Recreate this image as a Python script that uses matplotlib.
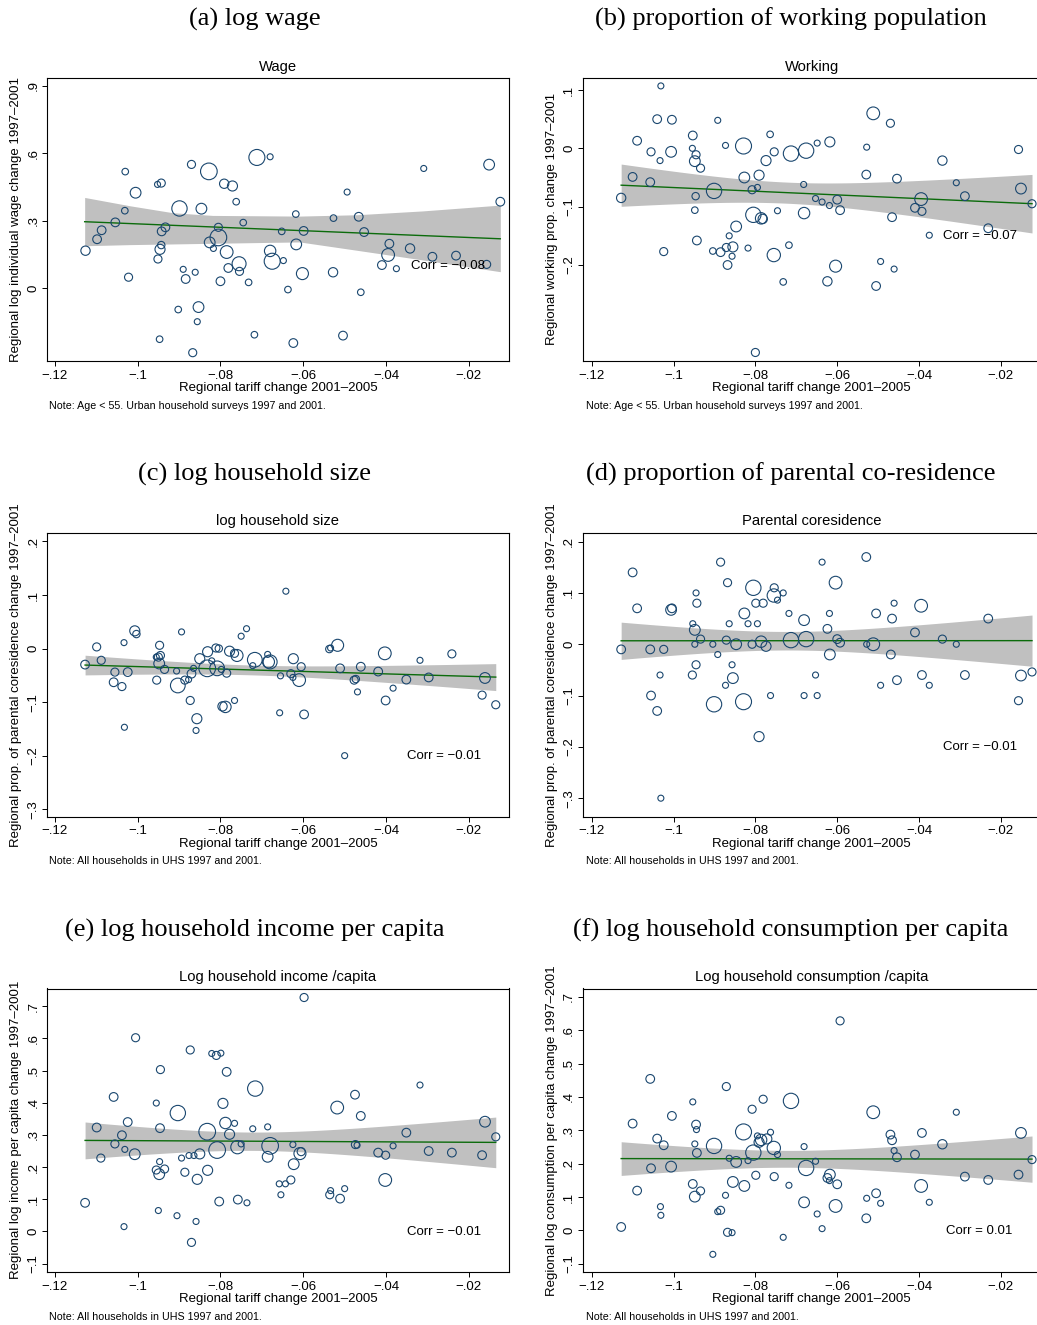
import matplotlib
matplotlib.use("Agg")
import matplotlib.pyplot as plt
import numpy as np

# ---- data (x = regional tariff change, y = outcome,
# ---- w = relative bubble weight, area proportional to w)

wage_x = [-0.1126, -0.1098, -0.1087, -0.1054, -0.1030, -0.1031, -0.1022, -0.1005, -0.0952, -0.0943,
          -0.0942, -0.0933, -0.0943, -0.0946, -0.0951, -0.0947, -0.0902, -0.0899, -0.0890, -0.0884,
          -0.0870, -0.0861, -0.0853, -0.0856, -0.0867, -0.0846, -0.0828, -0.0826, -0.0817, -0.0805,
          -0.0805, -0.0800, -0.0791, -0.0771, -0.0785, -0.0781, -0.0762, -0.0755, -0.0754, -0.0745,
          -0.0732, -0.0718, -0.0712, -0.0680, -0.0680, -0.0675, -0.0652, -0.0648, -0.0637, -0.0624,
          -0.0618, -0.0617, -0.0602, -0.0599, -0.0528, -0.0527, -0.0504, -0.0494, -0.0466, -0.0461,
          -0.0453, -0.0410, -0.0395, -0.0392, -0.0375, -0.0342, -0.0309, -0.0288, -0.0231, -0.0157,
          -0.0151, -0.0124]
wage_y = [0.166, 0.217, 0.257, 0.292, 0.518, 0.344, 0.048, 0.424, 0.461, 0.467,
          0.252, 0.270, 0.191, 0.172, 0.129, -0.228, -0.096, 0.354, 0.083, 0.040,
          0.550, 0.070, -0.085, -0.150, -0.288, 0.353, 0.519, 0.203, 0.176, 0.270,
          0.225, 0.030, 0.464, 0.454, 0.160, 0.089, 0.384, 0.108, 0.074, 0.291,
          0.025, -0.208, 0.581, 0.584, 0.165, 0.119, 0.252, 0.122, -0.007, -0.245,
          0.329, 0.194, 0.064, 0.254, 0.070, 0.311, -0.212, 0.427, 0.317, -0.019,
          0.249, 0.102, 0.147, 0.197, 0.086, 0.176, 0.532, 0.139, 0.144, 0.105,
          0.549, 0.384]
wage_w = [2.4, 2.1, 2.1, 2.1, 1.2, 1.2, 1.8, 3.2, 1.0, 1.8,
          2.1, 2.1, 1.5, 2.8, 1.8, 1.2, 1.2, 6.5, 1.0, 2.1,
          1.8, 1.0, 3.2, 1.0, 1.8, 3.2, 7.7, 3.2, 1.0, 1.8,
          7.7, 2.1, 2.4, 2.8, 4.5, 2.1, 1.2, 5.4, 1.8, 1.2,
          1.2, 1.2, 7.1, 1.0, 3.6, 7.1, 1.2, 1.0, 1.2, 2.1,
          1.2, 3.2, 4.0, 2.1, 2.4, 1.2, 2.1, 1.0, 2.1, 1.2,
          2.1, 2.1, 4.5, 2.1, 1.0, 2.4, 1.0, 2.1, 2.1, 1.8,
          3.2, 2.1]
# the wage fit in the source does not follow from the visible points alone,
# so its line and 95% band are read straight off the chart
wage_fit_x = [-0.1128, -0.0124]
wage_fit_y = [0.295, 0.219]
wage_band_x = [-0.1128, -0.1019, -0.0915, -0.0819, -0.0609, -0.0471, -0.0312, -0.0124]
wage_band_lo = [0.188, 0.193, 0.196, 0.199, 0.205, 0.168, 0.125, 0.0725]
wage_band_hi = [0.403, 0.366, 0.335, 0.323, 0.320, 0.326, 0.343, 0.369]

work_x = [-0.1128, -0.1100, -0.1089, -0.1057, -0.1055, -0.1040, -0.1031, -0.1033, -0.1024, -0.1006,
          -0.1004, -0.0953, -0.0954, -0.0945, -0.0948, -0.0934, -0.0946, -0.0948, -0.0943, -0.0904,
          -0.0901, -0.0892, -0.0873, -0.0885, -0.0871, -0.0864, -0.0855, -0.0868, -0.0857, -0.0847,
          -0.0829, -0.0827, -0.0818, -0.0808, -0.0795, -0.0805, -0.0791, -0.0786, -0.0782, -0.0800,
          -0.0774, -0.0764, -0.0754, -0.0746, -0.0755, -0.0732, -0.0718, -0.0713, -0.0676, -0.0682,
          -0.0681, -0.0653, -0.0649, -0.0637, -0.0619, -0.0618, -0.0600, -0.0593, -0.0604, -0.0624,
          -0.0528, -0.0512, -0.0529, -0.0505, -0.0494, -0.0470, -0.0454, -0.0466, -0.0461, -0.0410,
          -0.0395, -0.0393, -0.0375, -0.0343, -0.0309, -0.0288, -0.0231, -0.0157, -0.0151, -0.0124]
work_y = [-0.085, -0.049, 0.013, -0.058, -0.006, 0.050, 0.107, -0.021, -0.177, -0.006,
          0.049, 0.022, 0.000, -0.011, -0.022, -0.034, -0.082, -0.106, -0.158, -0.176,
          -0.073, 0.048, 0.005, -0.178, -0.170, -0.150, -0.169, -0.200, -0.185, -0.134,
          0.004, -0.050, -0.171, -0.071, -0.067, -0.114, -0.046, -0.120, -0.121, -0.350,
          -0.021, 0.024, -0.006, -0.107, -0.183, -0.229, -0.166, -0.009, -0.004, -0.062,
          -0.111, -0.086, 0.009, -0.092, -0.098, 0.011, -0.088, -0.106, -0.202, -0.228,
          0.002, 0.060, -0.045, -0.236, -0.194, 0.043, -0.052, -0.118, -0.207, -0.102,
          -0.087, -0.108, -0.149, -0.021, -0.059, -0.082, -0.137, -0.002, -0.069, -0.095]
work_w = [2.4, 2.1, 2.1, 2.1, 1.8, 2.1, 1.0, 1.0, 1.8, 3.2,
          2.1, 2.1, 1.0, 1.8, 3.2, 1.8, 1.5, 1.2, 2.1, 1.2,
          6.5, 1.0, 1.0, 2.1, 1.8, 1.0, 2.8, 2.1, 1.0, 3.2,
          7.1, 3.2, 1.0, 1.8, 1.0, 6.5, 2.8, 3.6, 2.4, 1.8,
          2.8, 1.2, 1.8, 1.0, 4.9, 1.2, 1.2, 6.5, 6.5, 1.0,
          3.6, 1.0, 1.0, 1.0, 1.0, 2.8, 2.1, 2.1, 4.0, 2.4,
          1.0, 4.5, 2.1, 2.1, 1.0, 1.8, 2.1, 2.1, 1.0, 2.1,
          4.5, 1.8, 1.0, 2.4, 1.0, 2.1, 2.1, 1.8, 3.2, 1.8]

hh_x = [-0.1127, -0.1099, -0.1088, -0.1055, -0.1058, -0.1038, -0.1033, -0.1024, -0.1032, -0.1007,
        -0.1003, -0.0955, -0.0950, -0.0947, -0.0945, -0.0948, -0.0954, -0.0935, -0.0906, -0.0903,
        -0.0894, -0.0886, -0.0877, -0.0870, -0.0865, -0.0873, -0.0857, -0.0859, -0.0850, -0.0831,
        -0.0832, -0.0821, -0.0811, -0.0804, -0.0808, -0.0798, -0.0785, -0.0778, -0.0766, -0.0760,
        -0.0795, -0.0788, -0.0766, -0.0750, -0.0737, -0.0722, -0.0717, -0.0686, -0.0684, -0.0680,
        -0.0655, -0.0657, -0.0642, -0.0630, -0.0625, -0.0624, -0.0605, -0.0610, -0.0598, -0.0537,
        -0.0534, -0.0517, -0.0511, -0.0500, -0.0477, -0.0473, -0.0469, -0.0461, -0.0419, -0.0403,
        -0.0401, -0.0383, -0.0351, -0.0318, -0.0297, -0.0241, -0.0168, -0.0161, -0.0135]
hh_y = [-0.030, 0.003, -0.022, -0.044, -0.063, -0.071, 0.011, -0.044, -0.147, 0.033,
        0.027, -0.016, -0.016, 0.006, -0.013, -0.028, -0.059, -0.039, -0.042, -0.069,
        0.031, -0.059, -0.058, -0.047, -0.037, -0.097, -0.131, -0.153, -0.019, -0.006,
        -0.037, -0.023, 0.001, 0.000, -0.037, -0.039, -0.046, -0.005, -0.009, -0.013,
        -0.108, -0.109, -0.097, 0.023, 0.037, -0.032, -0.021, -0.011, -0.025, -0.025,
        -0.051, -0.120, 0.107, -0.047, -0.054, -0.019, -0.034, -0.059, -0.123, -0.001,
        0.001, 0.006, -0.037, -0.200, -0.059, -0.057, -0.081, -0.034, -0.043, -0.009,
        -0.097, -0.074, -0.058, -0.022, -0.054, -0.010, -0.087, -0.055, -0.105]
hh_w = [2.1, 1.8, 1.8, 1.8, 2.1, 1.8, 1.0, 2.1, 1.0, 2.8,
        1.5, 1.0, 1.8, 1.8, 1.8, 3.2, 1.8, 1.8, 1.0, 6.0,
        1.0, 1.8, 1.0, 2.1, 1.0, 1.8, 2.8, 1.0, 2.8, 2.8,
        7.7, 1.0, 1.8, 1.5, 6.0, 1.0, 1.8, 2.8, 1.8, 4.0,
        2.4, 3.6, 1.0, 1.0, 1.0, 1.0, 6.0, 1.0, 4.0, 5.4,
        1.0, 1.0, 1.0, 1.8, 1.0, 2.8, 1.8, 4.5, 2.1, 1.5,
        1.0, 4.0, 2.1, 1.0, 1.8, 1.5, 1.0, 2.1, 2.1, 4.5,
        2.1, 1.0, 2.1, 1.0, 2.1, 1.8, 1.8, 3.2, 1.8]

cores_x = [-0.1128, -0.1100, -0.1089, -0.1057, -0.1055, -0.1040, -0.1033, -0.1031, -0.1024, -0.1006,
           -0.1004, -0.0953, -0.0954, -0.0948, -0.0948, -0.0945, -0.0943, -0.0945, -0.0934, -0.0904,
           -0.0901, -0.0892, -0.0885, -0.0873, -0.0871, -0.0868, -0.0864, -0.0857, -0.0855, -0.0847,
           -0.0829, -0.0827, -0.0818, -0.0808, -0.0805, -0.0799, -0.0795, -0.0791, -0.0786, -0.0781,
           -0.0774, -0.0763, -0.0754, -0.0755, -0.0746, -0.0732, -0.0718, -0.0713, -0.0681, -0.0681,
           -0.0676, -0.0653, -0.0649, -0.0637, -0.0624, -0.0619, -0.0618, -0.0604, -0.0600, -0.0593,
           -0.0528, -0.0529, -0.0512, -0.0505, -0.0494, -0.0469, -0.0466, -0.0461, -0.0454, -0.0410,
           -0.0395, -0.0393, -0.0375, -0.0343, -0.0309, -0.0288, -0.0231, -0.0157, -0.0151, -0.0124]
cores_y = [-0.010, 0.140, 0.070, -0.010, -0.100, -0.130, -0.060, -0.300, -0.010, 0.067,
           0.070, 0.040, -0.060, 0.028, 0.000, 0.100, 0.080, -0.040, 0.010, 0.000,
           -0.117, -0.020, 0.160, -0.080, 0.008, 0.120, 0.040, -0.040, -0.066, 0.000,
           -0.112, 0.060, 0.040, 0.000, 0.110, 0.080, 0.040, -0.180, 0.005, 0.080,
           -0.004, -0.100, 0.110, 0.095, 0.086, 0.100, 0.060, 0.008, 0.047, -0.100,
           0.010, -0.060, -0.100, 0.160, 0.030, 0.060, -0.020, 0.120, 0.010, 0.003,
           0.000, 0.170, 0.000, 0.060, -0.080, -0.020, 0.050, 0.080, -0.070, 0.023,
           0.075, -0.060, -0.080, 0.010, 0.000, -0.060, 0.050, -0.110, -0.061, -0.054]
cores_w = [2.1, 2.1, 2.1, 2.1, 2.1, 2.1, 1.0, 1.0, 1.8, 3.2,
           2.1, 1.0, 1.8, 3.2, 1.0, 1.0, 1.8, 1.8, 1.8, 1.0,
           6.5, 1.0, 1.8, 1.0, 1.8, 1.8, 1.0, 1.0, 3.2, 3.2,
           7.1, 3.2, 1.0, 1.8, 6.5, 1.8, 1.0, 2.8, 3.6, 1.8,
           2.8, 1.0, 1.8, 4.9, 1.0, 1.0, 1.0, 6.5, 3.2, 1.0,
           6.5, 1.0, 1.0, 1.0, 2.1, 1.0, 3.2, 4.5, 2.1, 2.1,
           1.0, 2.1, 4.5, 2.1, 1.0, 2.1, 2.1, 1.0, 2.1, 2.1,
           4.5, 2.1, 1.0, 1.8, 1.0, 2.1, 2.1, 1.8, 3.2, 1.8]

inc_x = [-0.1127, -0.1099, -0.1089, -0.1055, -0.1058, -0.1038, -0.1031, -0.1024, -0.1033, -0.1007,
         -0.1005, -0.0955, -0.0950, -0.0947, -0.0945, -0.0946, -0.0955, -0.0948, -0.0935, -0.0905,
         -0.0903, -0.0894, -0.0886, -0.0876, -0.0873, -0.0864, -0.0870, -0.0859, -0.0856, -0.0850,
         -0.0831, -0.0832, -0.0821, -0.0810, -0.0799, -0.0808, -0.0803, -0.0794, -0.0785, -0.0788,
         -0.0778, -0.0766, -0.0759, -0.0758, -0.0750, -0.0736, -0.0722, -0.0716, -0.0686, -0.0686,
         -0.0680, -0.0658, -0.0654, -0.0643, -0.0630, -0.0625, -0.0623, -0.0608, -0.0605, -0.0598,
         -0.0536, -0.0534, -0.0518, -0.0511, -0.0500, -0.0475, -0.0474, -0.0470, -0.0461, -0.0419,
         -0.0402, -0.0401, -0.0383, -0.0351, -0.0318, -0.0297, -0.0241, -0.0168, -0.0161, -0.0135]
inc_y = [0.089, 0.323, 0.228, 0.272, 0.418, 0.299, 0.255, 0.340, 0.015, 0.240,
         0.602, 0.399, 0.065, 0.217, 0.503, 0.321, 0.191, 0.178, 0.194, 0.049,
         0.368, 0.228, 0.184, 0.236, 0.564, 0.236, -0.034, 0.031, 0.162, 0.241,
         0.190, 0.310, 0.553, 0.547, 0.554, 0.253, 0.093, 0.398, 0.496, 0.337,
         0.302, 0.336, 0.262, 0.099, 0.272, 0.089, 0.319, 0.444, 0.325, 0.232,
         0.266, 0.148, 0.114, 0.148, 0.160, 0.270, 0.209, 0.242, 0.248, 0.727,
         0.114, 0.127, 0.385, 0.102, 0.133, 0.425, 0.270, 0.268, 0.359, 0.245,
         0.160, 0.237, 0.266, 0.307, 0.455, 0.250, 0.245, 0.237, 0.341, 0.294]
inc_w = [2.1, 2.1, 1.8, 1.8, 2.1, 2.1, 1.0, 2.1, 1.0, 3.2,
         1.8, 1.0, 1.0, 1.0, 1.8, 2.1, 1.8, 3.2, 1.8, 1.0,
         6.5, 1.0, 1.8, 1.0, 1.8, 1.0, 1.8, 1.0, 2.8, 2.8,
         2.8, 7.7, 1.0, 1.8, 1.0, 7.7, 2.1, 2.8, 2.1, 3.6,
         2.8, 1.0, 4.9, 2.1, 1.0, 1.0, 1.0, 6.5, 1.0, 3.2,
         7.7, 1.0, 1.0, 1.0, 1.8, 1.0, 3.2, 4.0, 1.8, 1.8,
         1.8, 1.0, 4.5, 2.1, 1.0, 2.1, 1.8, 1.0, 2.1, 2.1,
         4.5, 1.8, 1.0, 2.1, 1.0, 2.1, 2.1, 2.1, 3.2, 1.8]

cons_x = [-0.1128, -0.1100, -0.1089, -0.1057, -0.1055, -0.1040, -0.1032, -0.1031, -0.1024, -0.1006,
          -0.1004, -0.0953, -0.0948, -0.0945, -0.0944, -0.0943, -0.0953, -0.0948, -0.0934, -0.0904,
          -0.0901, -0.0892, -0.0885, -0.0873, -0.0871, -0.0868, -0.0864, -0.0857, -0.0855, -0.0847,
          -0.0829, -0.0827, -0.0818, -0.0808, -0.0805, -0.0799, -0.0795, -0.0791, -0.0786, -0.0781,
          -0.0772, -0.0763, -0.0755, -0.0754, -0.0746, -0.0732, -0.0718, -0.0713, -0.0681, -0.0681,
          -0.0676, -0.0653, -0.0649, -0.0637, -0.0624, -0.0619, -0.0618, -0.0604, -0.0600, -0.0593,
          -0.0528, -0.0529, -0.0512, -0.0505, -0.0494, -0.0470, -0.0466, -0.0461, -0.0454, -0.0410,
          -0.0393, -0.0395, -0.0375, -0.0343, -0.0309, -0.0288, -0.0231, -0.0157, -0.0151, -0.0124]
cons_y = [0.010, 0.320, 0.119, 0.454, 0.186, 0.275, 0.071, 0.045, 0.255, 0.191,
          0.343, 0.385, 0.259, 0.317, 0.302, 0.232, 0.139, 0.101, 0.118, -0.072,
          0.253, 0.056, 0.060, 0.105, 0.431, -0.006, 0.216, -0.007, 0.145, 0.205,
          0.295, 0.133, 0.209, 0.363, 0.233, 0.165, 0.283, 0.264, 0.271, 0.393,
          0.274, 0.294, 0.247, 0.161, 0.227, -0.021, 0.135, 0.388, 0.251, 0.084,
          0.187, 0.207, 0.049, 0.005, 0.157, 0.149, 0.167, 0.073, 0.138, 0.628,
          0.096, 0.036, 0.354, 0.111, 0.081, 0.287, 0.270, 0.239, 0.219, 0.227,
          0.292, 0.133, 0.084, 0.258, 0.354, 0.161, 0.151, 0.167, 0.292, 0.212]
cons_w = [2.1, 2.1, 2.1, 2.1, 2.1, 2.1, 1.0, 1.0, 2.1, 3.2,
          2.1, 1.0, 1.0, 2.1, 1.0, 2.1, 2.1, 3.2, 1.8, 1.0,
          6.5, 1.0, 1.8, 1.0, 1.8, 1.8, 1.0, 1.0, 3.2, 3.2,
          7.1, 3.2, 1.0, 1.8, 6.5, 1.8, 1.0, 2.8, 3.6, 1.8,
          2.8, 1.0, 4.9, 1.8, 1.0, 1.0, 1.0, 6.5, 1.0, 3.2,
          6.5, 1.0, 1.0, 1.0, 2.1, 1.0, 3.2, 4.5, 2.1, 1.8,
          1.0, 2.1, 4.5, 2.1, 1.0, 2.1, 2.1, 1.0, 2.1, 2.1,
          2.1, 4.5, 1.0, 2.4, 1.0, 2.1, 2.1, 2.1, 3.2, 1.8]

x_ticks = [-0.12, -0.10, -0.08, -0.06, -0.04, -0.02]
x_ticklabels = ["\u2212.12", "\u2212.1", "\u2212.08", "\u2212.06", "\u2212.04", "\u2212.02"]

corr_texts = ["Corr = \u22120.08", "Corr = \u22120.07", "Corr = \u22120.01",
              "Corr = \u22120.01", "Corr = \u22120.01", "Corr = 0.01"]

NOTE_INDIV = "Note: Age < 55. Urban household surveys 1997 and 2001."
NOTE_HH = "Note: All households in UHS 1997 and 2001."
XLABEL = "Regional tariff change 2001\u20132005"

panels = [
    dict(x=wage_x, y=wage_y, w=wage_w, title="(a) log wage", sub="Wage",
         ylabel="Regional log individual wage change 1997\u20132001",
         ylim=(-0.325, 0.936), yticks=[0, 0.3, 0.6, 0.9],
         yticklabels=["0", ".3", ".6", ".9"], corr=corr_texts[0],
         corr_xy=(-0.0339, 0.099), note=NOTE_INDIV,
         fit=(wage_fit_x, wage_fit_y, wage_band_x, wage_band_lo, wage_band_hi)),
    dict(x=work_x, y=work_y, w=work_w, title="(b) proportion of working population", sub="Working",
         ylabel="Regional working prop. change 1997\u20132001",
         ylim=(-0.3646, 0.1211), yticks=[-0.2, -0.1, 0, 0.1],
         yticklabels=["\u2212.2", "\u2212.1", "0", ".1"], corr=corr_texts[1],
         corr_xy=(-0.0341, -0.151), note=NOTE_INDIV),
    dict(x=hh_x, y=hh_y, w=hh_w, title="(c) log household size", sub="log household size",
         ylabel="Regional prop. of parental coresidence change 1997\u20132001",
         ylim=(-0.3136, 0.2151), yticks=[-0.3, -0.2, -0.1, 0, 0.1, 0.2],
         yticklabels=["\u2212.3", "\u2212.2", "\u2212.1", "0", ".1", ".2"], corr=corr_texts[2],
         corr_xy=(-0.0350, -0.2007), note=NOTE_HH),
    dict(x=cores_x, y=cores_y, w=cores_w, title="(d) proportion of parental co-residence",
         sub="Parental coresidence",
         ylabel="Regional prop. of parental coresidence change 1997\u20132001",
         ylim=(-0.3357, 0.2162), yticks=[-0.3, -0.2, -0.1, 0, 0.1, 0.2],
         yticklabels=["\u2212.3", "\u2212.2", "\u2212.1", "0", ".1", ".2"], corr=corr_texts[3],
         corr_xy=(-0.0341, -0.201), note=NOTE_HH),
    dict(x=inc_x, y=inc_y, w=inc_w, title="(e) log household income per capita",
         sub="Log household income /capita",
         ylabel="Regional log income per capita change 1997\u20132001",
         ylim=(-0.126, 0.755), yticks=[-0.1, 0, 0.1, 0.2, 0.3, 0.4, 0.5, 0.6, 0.7],
         yticklabels=["\u2212.1", "0", ".1", ".2", ".3", ".4", ".5", ".6", ".7"], corr=corr_texts[4],
         corr_xy=(-0.0350, -0.003), note=NOTE_HH),
    dict(x=cons_x, y=cons_y, w=cons_w, title="(f) log household consumption per capita",
         sub="Log household consumption /capita",
         ylabel="Regional log consumption per capita change 1997\u20132001",
         ylim=(-0.125, 0.725), yticks=[-0.1, 0, 0.1, 0.2, 0.3, 0.4, 0.5, 0.6, 0.7],
         yticklabels=["\u2212.1", "0", ".1", ".2", ".3", ".4", ".5", ".6", ".7"], corr=corr_texts[5],
         corr_xy=(-0.0333, -0.003), note=NOTE_HH),
]

# ---- styling / layout (pixels of the 1037x1325 canvas)
NAVY = "#1a476f"
FIT_GREEN = "#0b6b0b"
BAND_GREY = "#c0c0c0"
W, H = 1037, 1325

plt.rcParams["font.family"] = ["Liberation Sans", "DejaVu Sans"]
SERIF = ["Liberation Serif", "DejaVu Serif"]

# column geometry: axes left/right, xlim, panel-title centre, ylabel x, note x
cols = [
    dict(left=47, right=509, xlim=(-0.1219, -0.0103), title_x=255, ylabel_x=15.7, note_x=49),
    dict(left=582.7, right=1040.6, xlim=(-0.1222, -0.0103), title_x=791, ylabel_x=551.7, note_x=586),
]
# row geometry: axes top/bottom, panel title y, inner title y
rows = [
    dict(top=77.7, bottom=361, title_y=19, sub_y=66.5),
    dict(top=533.3, bottom=816.5, title_y=474, sub_y=521.5),
    dict(top=988.5, bottom=1272, title_y=930, sub_y=977.5),
]


def lfitci(x, y, w):
    """Weighted linear fit with a 95% CI band for the mean prediction."""
    x = np.asarray(x, float)
    y = np.asarray(y, float)
    w = np.asarray(w, float)
    n = len(x)
    w = w * n / w.sum()
    xbar = np.sum(w * x) / n
    ybar = np.sum(w * y) / n
    sxx = np.sum(w * (x - xbar) ** 2)
    b = np.sum(w * (x - xbar) * (y - ybar)) / sxx
    a = ybar - b * xbar
    resid = y - (a + b * x)
    s2 = np.sum(w * resid ** 2) / (n - 2)
    tcrit = 1.96 + 2.4 / (n - 2)  # close to t(0.975, n-2) for n around 80
    grid = np.linspace(x.min(), x.max(), 120)
    fit = a + b * grid
    se = np.sqrt(s2 * (1.0 / n + (grid - xbar) ** 2 / sxx))
    return grid, fit, grid, fit - tcrit * se, fit + tcrit * se


fig = plt.figure(figsize=(W / 100, H / 100), dpi=100)


def ftext(xpx, ypx, s, **kw):
    fig.text(xpx / W, 1 - ypx / H, s, **kw)


for i, p in enumerate(panels):
    c = cols[i % 2]
    r = rows[i // 2]
    ax = fig.add_axes([c["left"] / W, 1 - r["bottom"] / H,
                       (c["right"] - c["left"]) / W, (r["bottom"] - r["top"]) / H])

    if "fit" in p:
        fx, fy, bx, lo, hi = p["fit"]
    else:
        fx, fy, bx, lo, hi = lfitci(p["x"], p["y"], p["w"])
    ax.fill_between(bx, lo, hi, color=BAND_GREY, lw=0, zorder=1)
    ax.plot(fx, fy, color=FIT_GREEN, lw=1.0, zorder=2)
    ax.scatter(p["x"], p["y"], s=np.asarray(p["w"]) * 18.7, facecolors="none",
               edgecolors=NAVY, linewidths=0.8, zorder=3)

    ax.text(p["corr_xy"][0], p["corr_xy"][1], p["corr"], fontsize=9.5,
            ha="left", va="center", zorder=4)

    ax.set_xlim(*c["xlim"])
    ax.set_ylim(*p["ylim"])
    ax.set_xticks(x_ticks, x_ticklabels)
    ax.set_yticks(p["yticks"], p["yticklabels"], rotation=90, va="center")
    ax.tick_params(direction="out", length=3.4, width=0.7, labelsize=9.5, pad=3)
    ax.tick_params(axis="y", pad=2)
    for sp in ax.spines.values():
        sp.set_linewidth(0.8)

    cx = (c["left"] + c["right"]) / 2
    ftext(cx, r["sub_y"], p["sub"], fontsize=10.6, ha="center", va="center")
    ftext(cx, r["bottom"] + 27, XLABEL, fontsize=9.5, ha="center", va="center")
    ftext(c["note_x"], r["bottom"] + 45, p["note"], fontsize=7.7, ha="left", va="center")
    ftext(c["ylabel_x"], (r["top"] + r["bottom"]) / 2, p["ylabel"], fontsize=9.5,
          rotation=90, ha="center", va="center")
    ftext(c["title_x"], r["title_y"], p["title"], fontsize=19, family=SERIF,
          ha="center", va="center")

fig.savefig("out.png", dpi=100)
